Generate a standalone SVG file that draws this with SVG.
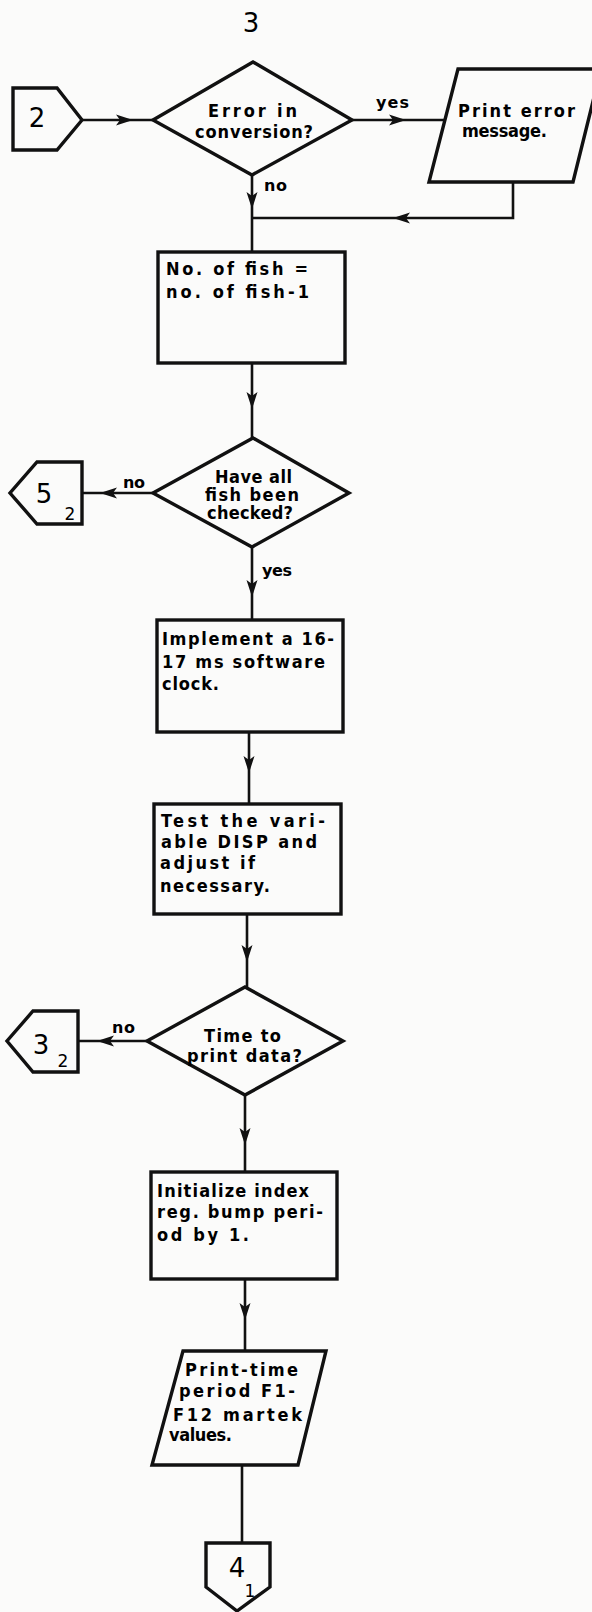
<svg xmlns="http://www.w3.org/2000/svg" xmlns:xlink="http://www.w3.org/1999/xlink" width="592" height="1612" viewBox="0 0 592 1612">
<style>
.bg{fill:#fbfbfa}
.shape{fill:none;stroke:#111;stroke-width:3.4;stroke-linejoin:miter}
.line{fill:none;stroke:#111;stroke-width:2.6}
.ah{fill:#111}
.t{font-family:"DejaVu Sans Condensed","DejaVu Sans","Liberation Sans",sans-serif;font-stretch:condensed;font-weight:bold;font-size:18px;fill:#000}
.lbl{font-family:"DejaVu Sans","Liberation Sans",sans-serif;font-weight:bold;font-size:16px;fill:#000}
.num{font-family:"DejaVu Sans","Liberation Sans",sans-serif;font-size:26px;fill:#000;text-anchor:middle}
.sub{font-family:"DejaVu Sans","Liberation Sans",sans-serif;font-size:17px;fill:#000;text-anchor:middle}
</style>
<defs>
<path id="ah" d="M0,0 L-17,-5.5 L-13,0 L-17,5.5 Z"/>
</defs>
<rect class="bg" x="0" y="0" width="592" height="1612"/>
<text id="page-number" class="num" x="251" y="32" font-size="27">3</text>

<g id="connectors">
<path class="line" d="M82,120 H153"/>
<use href="#ah" class="ah" transform="translate(133,120)"/>
<path class="line" d="M352,120 H445"/>
<use href="#ah" class="ah" transform="translate(406,120)"/>
<path class="line" d="M513,182 V218 H253"/>
<use href="#ah" class="ah" transform="translate(393,218) rotate(180)"/>
<path class="line" d="M252,175 V252"/>
<use href="#ah" class="ah" transform="translate(252,209) rotate(90)"/>
<path class="line" d="M252,363 V438"/>
<use href="#ah" class="ah" transform="translate(252,409) rotate(90)"/>
<path class="line" d="M153,493 H82"/>
<use href="#ah" class="ah" transform="translate(100,493) rotate(180)"/>
<path class="line" d="M252,547 V620"/>
<use href="#ah" class="ah" transform="translate(252,597) rotate(90)"/>
<path class="line" d="M249,732 V804"/>
<use href="#ah" class="ah" transform="translate(249,773) rotate(90)"/>
<path class="line" d="M247,914 V987"/>
<use href="#ah" class="ah" transform="translate(247,962) rotate(90)"/>
<path class="line" d="M147,1041 H78"/>
<use href="#ah" class="ah" transform="translate(97,1041) rotate(180)"/>
<path class="line" d="M245,1095 V1172"/>
<use href="#ah" class="ah" transform="translate(245,1145) rotate(90)"/>
<path class="line" d="M245,1279 V1351"/>
<use href="#ah" class="ah" transform="translate(245,1320) rotate(90)"/>
<path class="line" d="M242,1465 V1543"/>
<text class="lbl" x="376" y="108" textLength="33" lengthAdjust="spacing">yes</text>
<text class="lbl" x="264" y="191" textLength="23" lengthAdjust="spacing">no</text>
<text class="lbl" x="123" y="488" textLength="22" lengthAdjust="spacing">no</text>
<text class="lbl" x="262" y="576" textLength="30" lengthAdjust="spacing">yes</text>
<text class="lbl" x="112" y="1033" textLength="23" lengthAdjust="spacing">no</text>
</g>

<g id="conn-2">
<path class="shape" d="M13,88 H57 L82,120 L57,150 H13 Z"/>
<text class="num" x="37" y="127" font-size="27">2</text>
</g>

<g id="decision-error">
<path class="shape" d="M253,62 L352,120 L252,175 L153,120 Z"/>
<text class="t" x="208" y="117" textLength="89" lengthAdjust="spacing">Error in</text>
<text class="t" x="195" y="138" textLength="118" lengthAdjust="spacing">conversion?</text>
</g>

<g id="print-error">
<path class="shape" d="M458,69 H601 L573,182 H429 Z"/>
<text class="t" x="458" y="117" textLength="117" lengthAdjust="spacing">Print error</text>
<text class="t" x="462" y="137" textLength="85" lengthAdjust="spacing">message.</text>
</g>

<g id="box-fish">
<rect class="shape" x="158" y="252" width="187" height="111"/>
<text class="t" x="166" y="275" textLength="142" lengthAdjust="spacing">No. of fish =</text>
<text class="t" x="166" y="298" textLength="143" lengthAdjust="spacing">no. of fish-1</text>
</g>

<g id="decision-checked">
<path class="shape" d="M253,438 L349,493 L252,547 L153,493 Z"/>
<text class="t" x="215" y="483" textLength="77" lengthAdjust="spacing">Have all</text>
<text class="t" x="205" y="501" textLength="94" lengthAdjust="spacing">fish been</text>
<text class="t" x="207" y="519" textLength="86" lengthAdjust="spacing">checked?</text>
</g>

<g id="conn-5">
<path class="shape" d="M82,462 H37 L10,493 L37,524 H82 Z"/>
<text class="num" x="44" y="503" font-size="25">5</text>
<text class="sub" x="70" y="520">2</text>
</g>

<g id="box-clock">
<rect class="shape" x="157" y="620" width="186" height="112"/>
<text class="t" x="162" y="645" textLength="172" lengthAdjust="spacing">Implement a 16-</text>
<text class="t" x="162" y="668" textLength="163" lengthAdjust="spacing">17 ms software</text>
<text class="t" x="162" y="690" textLength="57" lengthAdjust="spacing">clock.</text>
</g>

<g id="box-disp">
<rect class="shape" x="154" y="804" width="187" height="110"/>
<text class="t" x="161" y="827" textLength="164" lengthAdjust="spacing">Test the vari-</text>
<text class="t" x="161" y="848" textLength="156" lengthAdjust="spacing">able DISP and</text>
<text class="t" x="160" y="869" textLength="95" lengthAdjust="spacing">adjust if</text>
<text class="t" x="160" y="892" textLength="110" lengthAdjust="spacing">necessary.</text>
</g>

<g id="decision-time">
<path class="shape" d="M245,987 L343,1041 L245,1095 L147,1041 Z"/>
<text class="t" x="204" y="1042" textLength="77" lengthAdjust="spacing">Time to</text>
<text class="t" x="187" y="1062" textLength="115" lengthAdjust="spacing">print data?</text>
</g>

<g id="conn-3">
<path class="shape" d="M78,1011 H33 L7,1041 L33,1072 H78 Z"/>
<text class="num" x="41" y="1054" font-size="24">3</text>
<text class="sub" x="63" y="1067" font-size="16">2</text>
</g>

<g id="box-index">
<rect class="shape" x="151" y="1172" width="186" height="107"/>
<text class="t" x="157" y="1197" textLength="152" lengthAdjust="spacing">Initialize index</text>
<text class="t" x="157" y="1218" textLength="166" lengthAdjust="spacing">reg. bump peri-</text>
<text class="t" x="157" y="1241" textLength="92" lengthAdjust="spacing">od by 1.</text>
</g>

<g id="print-martek">
<path class="shape" d="M183,1351 H326 L298,1465 H152 Z"/>
<text class="t" x="185" y="1376" textLength="113" lengthAdjust="spacing">Print-time</text>
<text class="t" x="179" y="1397" textLength="116" lengthAdjust="spacing">period F1-</text>
<text class="t" x="173" y="1421" textLength="129" lengthAdjust="spacing">F12 martek</text>
<text class="t" x="169" y="1441" textLength="63" lengthAdjust="spacing">values.</text>
</g>

<g id="conn-4">
<path class="shape" d="M206,1543 H270 V1587 L237,1611 L206,1587 Z"/>
<text class="num" x="237" y="1577" font-size="22">4</text>
<text class="sub" x="250" y="1597" font-size="15">1</text>
</g>
</svg>
